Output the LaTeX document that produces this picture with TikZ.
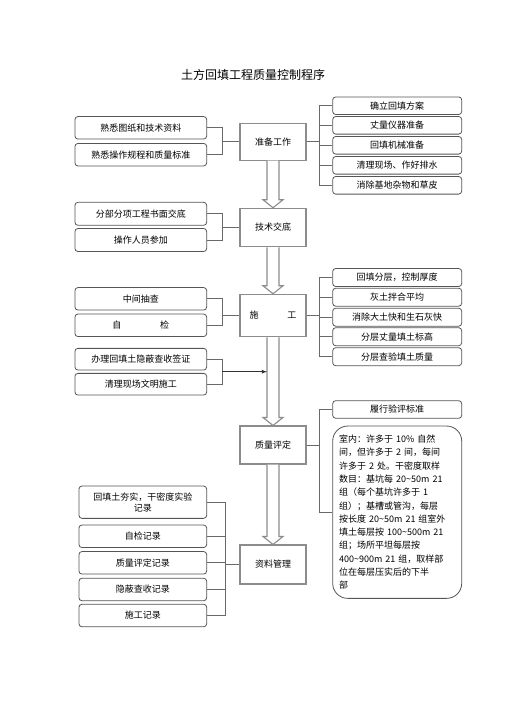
\documentclass[tikz,border=0pt]{standalone}
\usepackage{fontspec}
\setmainfont{Noto Sans CJK SC}
\usepackage{tikz}
\usetikzlibrary{calc,arrows}
\usepackage{xcolor}
\definecolor{stagegray}{RGB}{140,140,140}
\definecolor{itemgray}{RGB}{85,85,85}
\definecolor{linegray}{RGB}{105,105,105}
\tikzstyle{stage} = [draw=stagegray,line width=1.1pt,minimum width=66pt,minimum height=38pt,inner sep=0pt,font=\fontsize{9}{11}\selectfont]
\tikzstyle{item} = [draw=itemgray,line width=0.8pt,rounded corners=3pt,minimum width=129pt,minimum height=17.6pt,inner sep=0pt,font=\fontsize{9}{11}\selectfont]
\tikzstyle{litem} = [item,minimum width=131.7pt,minimum height=22.5pt]
\tikzstyle{link} = [draw=linegray,line width=0.8pt]
\tikzstyle{hollow} = [draw=stagegray,line width=1.1pt,fill=white]
\newcommand{\flowarrow}[2]{%
  \draw[hollow] ($(#1.south)+(-6,0)$) -- ($(#2.north)+(-6,-8)$) -- ($(#2.north)+(-10,-8)$)
    -- (#2.north) -- ($(#2.north)+(10,-8)$) -- ($(#2.north)+(6,-8)$) -- ($(#1.south)+(6,0)$);}

\begin{document}
\begin{tikzpicture}[x=1pt,y=-1pt]
\useasboundingbox (0,0) rectangle (505,715);
% Title
\node (title) at (253,75) {\fontsize{12}{14}\selectfont 土方回填工程质量控制程序};

% Main stages
\node[stage,minimum height=36.7pt] (prep) at (273,141.7) {准备工作};
\node[stage,minimum height=38.4pt] (brief) at (273,227.5) {技术交底};
\node[stage,minimum height=42.4pt] (build) at (273,315.5) {施\hspace{3.2em}工};
\node[stage] (check) at (273,445) {质量评定};
\node[stage,minimum height=39pt] (docs) at (273,564.5) {资料管理};

% Bracket lines
\coordinate (rbr) at (319.3,0);
\coordinate (lbr) at (222.3,0);
\coordinate (dbr) at (225.7,0);

% Preparation
\node[item] (prepR1) at (397.2,105.7) {确立回填方案};
\node[item] (prepR2) at (397.2,125.3) {丈量仪器准备};
\node[item] (prepR3) at (397.2,145.3) {回填机械准备};
\node[item] (prepR4) at (397.2,165.3) {清理现场、作好排水};
\node[item] (prepR5) at (397.2,185.3) {消除基地杂物和草皮};
\node[litem] (prepL1) at (140.8,127.8) {熟悉图纸和技术资料};
\node[litem] (prepL2) at (140.8,154.7) {熟悉操作规程和质量标准};
\draw[link] (prep.east) -- (prep.east -| rbr);
\draw[link] (prepR1.west -| rbr) -- (prepR5.west -| rbr);
\foreach \n in {prepR1,prepR2,prepR3,prepR4,prepR5}
  \draw[link] (\n.west) -- (\n.west -| rbr);
\draw[link] (prepL1.east) -- (prepL1.east -| lbr) -- (prepL2.east -| lbr) -- (prepL2.east);
\draw[link] (prep.west) -- (prep.west -| lbr);

% Briefing
\node[litem,minimum height=23pt] (briefL1) at (140.8,213.8) {分部分项工程书面交底};
\node[litem,minimum height=23pt] (briefL2) at (140.8,240) {操作人员参加};
\draw[link] (briefL1.east) -- (briefL1.east -| lbr) -- (briefL2.east -| lbr) -- (briefL2.east);
\draw[link] (brief.west) -- (brief.west -| lbr);

% Construction
\node[item,minimum height=18pt] (buildR1) at (397.2,277.5) {回填分层，控制厚度};
\node[item,minimum height=18pt] (buildR2) at (397.2,297.2) {灰土拌合平均};
\node[item,minimum height=18pt] (buildR3) at (397.2,317.2) {消除大土快和生石灰快};
\node[item,minimum height=18pt] (buildR4) at (397.2,336.7) {分层丈量填土标高};
\node[item,minimum height=18pt] (buildR5) at (397.2,356.7) {分层查验填土质量};
\draw[link] (build.east) -- (build.east -| rbr);
\draw[link] (buildR1.west -| rbr) -- (buildR5.west -| rbr);
\foreach \n in {buildR1,buildR2,buildR3,buildR4,buildR5}
  \draw[link] (\n.west) -- (\n.west -| rbr);
\node[litem] (buildL1) at (140.8,298.8) {中间抽查};
\node[litem] (buildL2) at (140.8,325.3) {自\hspace{4.3em}检};
\draw[link] (buildL1.east) -- (buildL1.east -| lbr) -- (buildL2.east -| lbr) -- (buildL2.east);
\draw[link] (build.west) -- (build.west -| lbr);
\node[litem,minimum height=21.7pt] (signL1) at (140.8,359.2) {办理回填土隐蔽查收签证};
\node[litem,minimum height=21.7pt] (signL2) at (140.8,384.2) {清理现场文明施工};
\draw[link] (signL1.east) -- (signL1.east -| lbr) -- (signL2.east -| lbr) -- (signL2.east);

% Hollow arrows
\flowarrow{prep}{brief}
\flowarrow{brief}{build}
\flowarrow{build}{check}
\flowarrow{check}{docs}
\coordinate (signjn) at ($(lbr |- signL1.east)!0.5!(lbr |- signL2.east)$);
\coordinate (shaft) at ($(build.south)+(-6,0)$);
\draw[link,draw=black!80,-latex] (signjn) -- (signjn -| shaft);

% Quality rating
\node[item] (checkR1) at (397.2,409.5) {履行验评标准};
\node[draw=itemgray,line width=0.8pt,rounded corners=15pt,minimum width=129pt,minimum height=172.3pt,
  text width=116pt,inner xsep=6.5pt,align=left,font=\fontsize{9}{13.3}\selectfont] (checkR2) at (397.2,512.2)
  {室内：许多于 10\% 自然\\间，但许多于 2 间，每间\\许多于 2 处。干密度取样\\数目：基坑每 20\textasciitilde50m 21\\组（每个基坑许多于 1\\组）；基槽或管沟，每层\\按长度 20\textasciitilde50m 21 组室外\\填土每层按 100\textasciitilde500m 21\\组；场所平坦每层按\\400\textasciitilde900m 21 组，取样部\\位在每层压实后的下半\\部};
\draw[link] (check.east) -- (check.east -| rbr);
\draw[link] (checkR1.west) -- (checkR1.west -| rbr) -- (checkR2.west -| rbr) -- (checkR2.west);

% Records
\node[litem,minimum width=127.7pt,minimum height=32.3pt,align=center] (docsL1) at (142.8,502.2) {回填土夯实，干密度实验\\记录};
\node[litem,minimum width=127.7pt] (docsL2) at (142.8,536.3) {自检记录};
\node[litem,minimum width=127.7pt] (docsL3) at (142.8,562.8) {质量评定记录};
\node[litem,minimum width=127.7pt] (docsL4) at (142.8,589.5) {隐蔽查收记录};
\node[litem,minimum width=127.7pt] (docsL5) at (142.8,615.5) {施工记录};
\draw[link] (docsL1.east -| dbr) -- (docsL5.east -| dbr);
\foreach \n in {docsL1,docsL2,docsL3,docsL4,docsL5}
  \draw[link] (\n.east) -- (\n.east -| dbr);
\draw[link] (docs.west) -- (docs.west -| dbr);
\end{tikzpicture}
\end{document}
